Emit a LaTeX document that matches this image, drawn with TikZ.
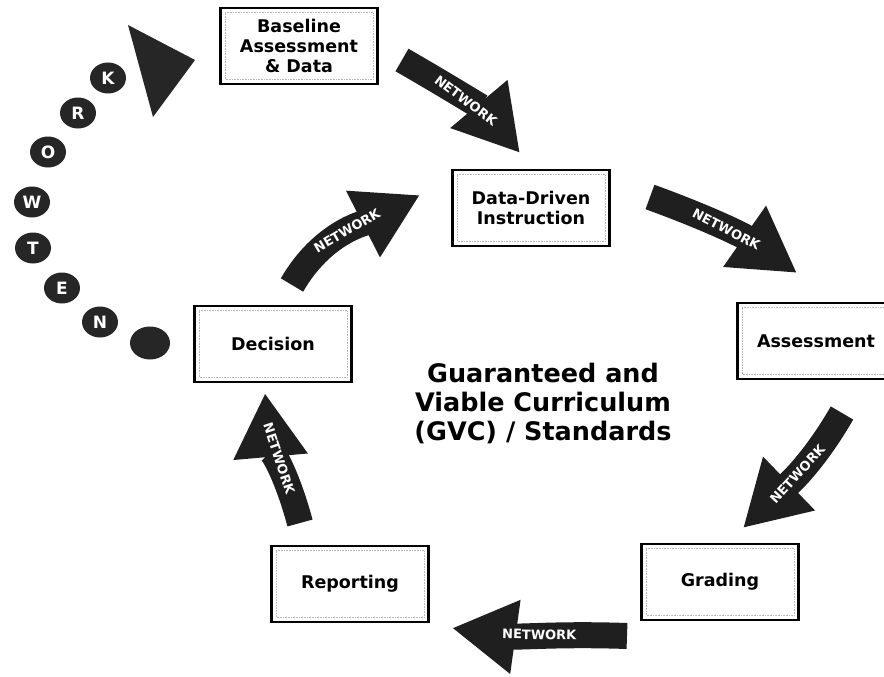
\documentclass[tikz,border=0pt]{standalone}
\usepackage{fontspec}
\setmainfont{DejaVu Sans}
\usetikzlibrary{arrows.meta,shapes.geometric}
\begin{document}
\begin{tikzpicture}[x=1pt,y=-1pt,
  box/.style={draw=black, line width=2.8pt, fill=white, minimum width=157pt, minimum height=76pt,
    align=center, inner sep=0pt, font=\bfseries\fontsize{17.5}{20}\selectfont},
  innerframe/.style={draw=gray!55, line width=0.6pt, densely dotted},
  netarrow/.style={draw=black!88, line width=26pt, -{Triangle[length=64pt,width=70pt]}},
  netlabel/.style={sloped, text=white, inner sep=0pt, font=\bfseries\fontsize{13}{13}\selectfont},
  letter/.style={ellipse, fill=black!85, text=white, minimum width=36pt, minimum height=31pt,
    inner sep=0pt, font=\bfseries\fontsize{17}{17}\selectfont},
  centertext/.style={align=center, font=\bfseries\fontsize{25.5}{29}\selectfont}
]
\useasboundingbox (0,0) rectangle (884,677);
\clip (0,0) rectangle (884,677);

% boxes
\node[box] (base) at (299,46) {Baseline\\Assessment\\\& Data};
\node[box] (ddi) at (531,208) {Data-Driven\\Instruction};
\node[box] (assess) at (816,341) {Assessment};
\node[box] (decision) at (273,344) {Decision};
\node[box] (grading) at (720,582) {Grading};
\node[box] (reporting) at (350,584) {Reporting};

\foreach \b in {base,ddi,assess,decision,grading,reporting}
  \draw[innerframe] ([shift={(6,6)}]\b.north west) rectangle ([shift={(-6,-6)}]\b.south east);

% centre text
\node[centertext] (gvc) at (543,403) {Guaranteed and\\Viable Curriculum\\(GVC) / Standards};

% arrow end points
\coordinate (a1s) at (402,60);  \coordinate (a1e) at (520,153);
\coordinate (a2s) at (650,197); \coordinate (a2e) at (797,273);
\coordinate (a3s) at (842,413); \coordinate (a3e) at (743,528);
\coordinate (a4s) at (627,636); \coordinate (a4e) at (452,628);
\coordinate (a5s) at (300,523); \coordinate (a5e) at (265,393);
\coordinate (a6s) at (292,285); \coordinate (a6e) at (420,195);

\draw[netarrow] (a1s) to[out=-30,in=130] node[netlabel] {NETWORK} (a1e);
\draw[netarrow] (a2s) to[out=-20,in=145] node[netlabel] {NETWORK} (a2e);
\draw[netarrow] (a3s) to[out=240,in=44] node[netlabel] {NETWORK} (a3e);
\draw[netarrow] (a4s) to[out=178,in=352] node[netlabel] {NETWORK} (a4e);
\draw[netarrow] (a5s) to[out=105,in=275] node[netlabel] {NETWORK} (a5e);
\draw[netarrow] (a6s) to[out=60,in=207] node[netlabel] {NETWORK} (a6e);

% NETWORK letters
\node[letter] (lk) at (108,78) {K};
\node[letter] (lr) at (78,113) {R};
\node[letter] (lo) at (48,152) {O};
\node[letter] (lw) at (32,202) {W};
\node[letter] (lt) at (33,248) {T};
\node[letter] (le) at (62,288) {E};
\node[letter] (ln) at (100,322) {N};
\node[letter, minimum width=40pt, minimum height=33pt] (lblank) at (150,343) {};

% triangle arrowhead
\fill[black!85] (128,25) -- (195,60) -- (153,117) -- cycle;
\end{tikzpicture}
\end{document}
